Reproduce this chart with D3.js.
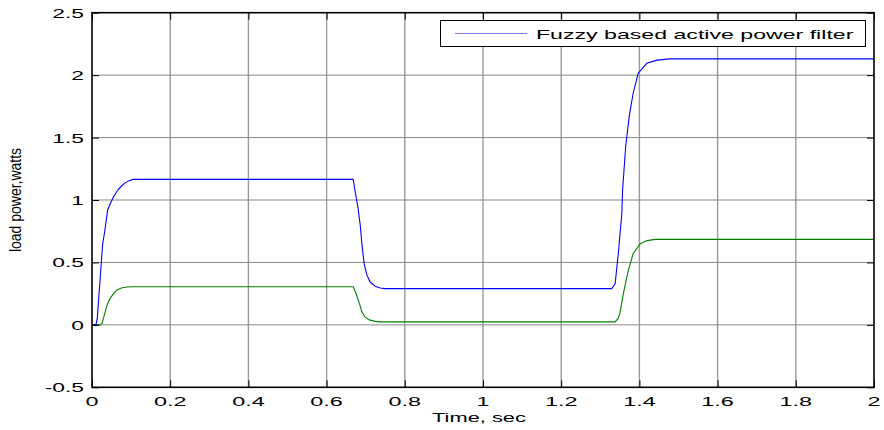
<!DOCTYPE html>
<html><head><meta charset="utf-8">
<script src="https://cdn.jsdelivr.net/npm/d3@7"></script>
<style>body{margin:0;background:#fff}svg{display:block}text{font-family:"Liberation Sans",Arial,sans-serif;fill:#000}</style>
</head><body><svg id="c" width="884" height="430"></svg>
<script>
const xTicks = [0,0.2,0.4,0.6,0.8,1,1.2,1.4,1.6,1.8,2];
const yTicks = [-0.5,0,0.5,1,1.5,2,2.5];
const xTickLabels = ["0","0.2","0.4","0.6","0.8","1","1.2","1.4","1.6","1.8","2"];
const yTickLabels = ["-0.5","0","0.5","1","1.5","2","2.5"];
const timeBlue  = [0,0.01,0.0136,0.016,0.022,0.027,0.033,0.04,0.048,0.056,0.066,0.075,0.084,0.095,0.105,0.668,0.674,0.680,0.686,0.691,0.696,0.703,0.711,0.724,0.737,0.749,1.329,1.338,1.346,1.355,1.357,1.365,1.374,1.384,1.397,1.419,1.445,1.478,2.0];
const powerBlue = [0,0,0.054,0.16,0.42,0.64,0.76,0.92,0.98,1.03,1.08,1.11,1.135,1.155,1.165,1.165,1.05,0.945,0.80,0.625,0.49,0.40,0.345,0.31,0.295,0.29,0.29,0.33,0.57,0.89,1.08,1.43,1.67,1.855,2.015,2.095,2.12,2.13,2.13];
const timeGreen  = [0,0.02,0.025,0.03,0.035,0.04,0.046,0.055,0.063,0.075,0.09,0.1,0.668,0.673,0.677,0.681,0.686,0.690,0.698,0.705,0.711,0.725,0.737,1.338,1.345,1.350,1.359,1.365,1.372,1.384,1.402,1.42,1.44,2.0];
const powerGreen = [0,0,0.01,0.06,0.12,0.17,0.21,0.25,0.278,0.295,0.303,0.305,0.305,0.27,0.235,0.198,0.15,0.104,0.064,0.048,0.038,0.028,0.024,0.024,0.05,0.09,0.25,0.34,0.44,0.57,0.65,0.675,0.685,0.685];
const legendLabel = "Fuzzy based active power filter";
const xLabel = "Time, sec";
const yLabel = "load power,watts";

const svg = d3.select("#c");
const L=92, R=874, T=12.7, B=387.3;
const x = d3.scaleLinear().domain([0,2]).range([L,R]);
const y = d3.scaleLinear().domain([-0.5,2.5]).range([B,T]);

// grid
const g = svg.append("g");
g.selectAll(".vg").data(xTicks.slice(1,-1)).enter().append("line")
  .attr("x1",d=>x(d)).attr("x2",d=>x(d)).attr("y1",T).attr("y2",B)
  .attr("stroke","#9a9a9a").attr("stroke-width",1.4);
g.selectAll(".hg").data(yTicks.slice(1,-1)).enter().append("line")
  .attr("x1",L).attr("x2",R).attr("y1",d=>y(d)).attr("y2",d=>y(d))
  .attr("stroke","#8a8a8a").attr("stroke-width",1);

// lines
const line = (ts)=>d3.line().x((d,i)=>x(ts[i])).y(d=>y(d));
svg.append("path").attr("d",line(timeGreen)(powerGreen)).attr("fill","none").attr("stroke","#008000").attr("stroke-width",1.1);
svg.append("path").attr("d",line(timeBlue)(powerBlue)).attr("fill","none").attr("stroke","#0000ff").attr("stroke-width",1.1);

// axes with inside ticks
const ax = svg.append("g");
ax.append("g").attr("transform",`translate(0,${B})`).call(d3.axisBottom(x).tickValues(xTicks).tickSize(-7).tickFormat(""));
ax.append("g").attr("transform",`translate(0,${T})`).call(d3.axisTop(x).tickValues(xTicks).tickSize(-7).tickFormat(""));
ax.append("g").attr("transform",`translate(${L},0)`).call(d3.axisLeft(y).tickValues(yTicks).tickSize(-7).tickFormat(""));
ax.append("g").attr("transform",`translate(${R},0)`).call(d3.axisRight(y).tickValues(yTicks).tickSize(-7).tickFormat(""));
ax.selectAll(".domain").remove();
ax.selectAll(".tick line").attr("stroke","#000").attr("stroke-width",1);
svg.append("rect").attr("x",L).attr("y",T).attr("width",R-L).attr("height",B-T)
  .attr("fill","none").attr("stroke","#000").attr("stroke-width",1.6);

function stxt(px,py,s,size,sx,anchor){
  return svg.append("text").attr("transform",`translate(${px},${py}) scale(${sx},1)`)
    .attr("font-size",size).attr("text-anchor",anchor).text(s);
}
xTicks.forEach((d,i)=>stxt(x(d),406,xTickLabels[i],13,1.8,"middle"));
yTicks.forEach((d,i)=>stxt(84,y(d)+5,yTickLabels[i],12,1.9,"end"));
stxt(479,422,xLabel,12.5,1.75,"middle");
svg.append("text").attr("transform",`translate(21,200) scale(1.2,1) rotate(-90)`)
  .attr("font-size",14).attr("text-anchor","middle").text(yLabel);

// legend
svg.append("rect").attr("x",440.5).attr("y",20.5).attr("width",425).attr("height",26)
  .attr("fill","#fff").attr("stroke","#000").attr("stroke-width",1);
svg.append("line").attr("x1",455).attr("x2",527).attr("y1",33.5).attr("y2",33.5)
  .attr("stroke","#7f7fff").attr("stroke-width",1.2);
stxt(536,38.5,legendLabel,13,1.78,"start");
</script></body></html>
